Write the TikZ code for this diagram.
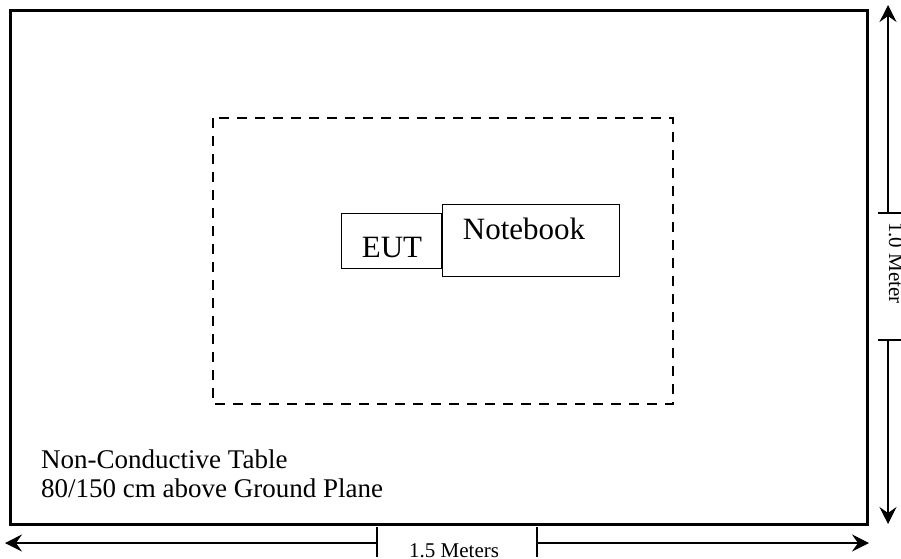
\documentclass[tikz,border=0pt]{standalone}
\usepackage{fontspec}
\setmainfont{Liberation Serif}
\usetikzlibrary{arrows.meta}
\begin{document}
\begin{tikzpicture}[x=1pt,y=-1pt,
  table/.style={line width=3pt},
  zone/.style={line width=2pt,dash pattern=on 10pt off 8pt},
  unit/.style={draw,line width=1.3pt,inner sep=0pt},
  tip/.style={-{Stealth[length=17pt,width=17pt,inset=6pt]}},
  dimline/.style={line width=1.3pt,tip},
  tick/.style={line width=1.3pt},
  lbl/.style={font=\fontsize{27}{30}\selectfont,inner sep=0pt},
  biglbl/.style={font=\fontsize{31}{34}\selectfont,inner sep=0pt},
  dimlbl/.style={font=\fontsize{21}{24}\selectfont,inner sep=0pt}]
\useasboundingbox (0,0) rectangle (901,558);
\draw[table] (10.5,10.5) rectangle (867,524);
\draw[zone] (213,118) rectangle (673,404);
\node[unit,minimum width=100pt,minimum height=55pt,anchor=north west] (eut) at (341,213) {};
\node[unit,minimum width=177pt,minimum height=72pt,anchor=north west,fill=white] (nb) at (442,204) {};
\node[biglbl,anchor=base] (eutt) at (392,257) {EUT};
\node[biglbl,anchor=base] (nbt) at (524,239) {Notebook};
\node[lbl,anchor=base west] (t1) at (41,468) {Non-Conductive Table};
\node[lbl,anchor=base west] (t2) at (41,497) {80/150 cm above Ground Plane};
% bottom dimension
\coordinate (bl) at (5,543);
\coordinate (br) at (869,543);
\coordinate (bt1) at (377,543);
\coordinate (bt2) at (537,543);
\draw[dimline] (bt1) -- (bl);
\draw[dimline] (bt2) -- (br);
\draw[tick] ([yshift=-14pt]bt1) -- ([yshift=16pt]bt1);
\draw[tick] ([yshift=-14pt]bt2) -- ([yshift=16pt]bt2);
\node[dimlbl,anchor=base west] (bw) at (409,557) {1.5 Meters};
% right dimension
\coordinate (rt) at (888,5);
\coordinate (rb) at (888,524);
\coordinate (rt1) at (888,213);
\coordinate (rt2) at (888,340);
\draw[dimline] (rt1) -- (rt);
\draw[dimline] (rt2) -- (rb);
\draw[tick] ([xshift=-10pt]rt1) -- ([xshift=14pt]rt1);
\draw[tick] ([xshift=-10pt]rt2) -- ([xshift=14pt]rt2);
\node[dimlbl,anchor=base west,rotate=-90] (rw) at (889,222) {1.0 Meter};
\end{tikzpicture}
\end{document}
